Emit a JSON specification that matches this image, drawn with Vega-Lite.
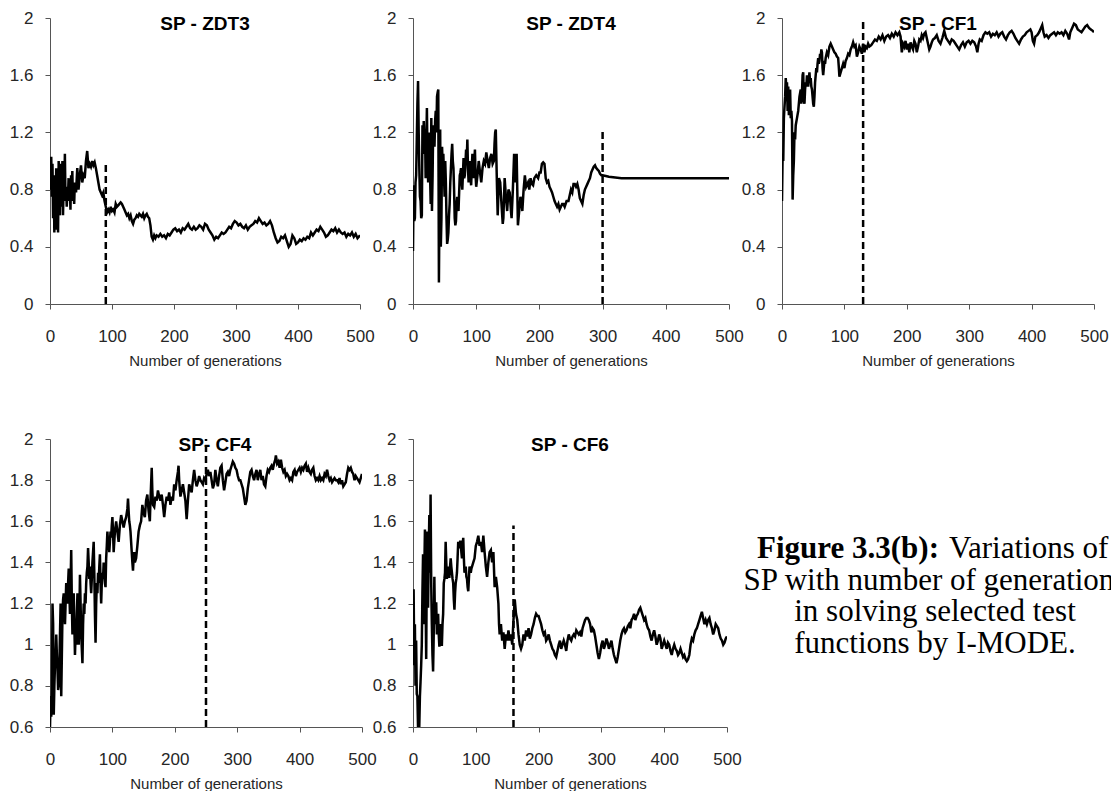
{
  "$schema": "https://vega.github.io/schema/vega-lite/v6.json",
  "padding": {"left": 9, "top": 9, "right": 0, "bottom": 0},
  "background": "#ffffff",
  "spacing": 62,
  "config": {
    "view": {"stroke": null},
    "font": "Liberation Sans, Arial, sans-serif",
    "axis": {
      "grid": false,
      "domainColor": "#555555",
      "domainWidth": 1,
      "tickColor": "#555555",
      "tickSize": 5,
      "labelFont": "Liberation Sans, Arial, sans-serif",
      "labelFontSize": 17,
      "labelColor": "#262626",
      "labelFlush": false,
      "titleFont": "Liberation Sans, Arial, sans-serif",
      "titleFontSize": 15,
      "titleFontWeight": "normal",
      "titleColor": "#262626"
    },
    "axisX": {"labelPadding": 19, "titlePadding": 9},
    "axisY": {"labelPadding": 12},
    "title": {
      "font": "Liberation Sans, Arial, sans-serif",
      "fontSize": 19,
      "fontWeight": "bold",
      "color": "#000000",
      "anchor": "middle",
      "frame": "group",
      "offset": -25
    }
  },
  "datasets": {
    "zdt3": [
      {"g":0,"sp":0.95},{"g":1,"sp":0.8},{"g":2,"sp":1.03},{"g":3,"sp":0.75},{"g":4,"sp":0.98},{"g":5,"sp":0.6},{"g":6,"sp":0.9},{"g":7,"sp":0.5},{"g":8,"sp":0.85},{"g":9,"sp":0.52},
      {"g":10,"sp":0.95},{"g":11,"sp":0.62},{"g":12,"sp":0.9},{"g":13,"sp":0.5},{"g":14,"sp":1.0},{"g":15,"sp":0.7},{"g":16,"sp":0.62},{"g":17,"sp":0.98},{"g":18,"sp":0.75},{"g":19,"sp":0.68},
      {"g":20,"sp":1.0},{"g":21,"sp":0.62},{"g":22,"sp":0.85},{"g":23,"sp":0.78},{"g":24,"sp":1.05},{"g":25,"sp":0.72},{"g":26,"sp":0.82},{"g":27,"sp":0.68},{"g":28,"sp":0.8},{"g":29,"sp":0.75},
      {"g":30,"sp":0.88},{"g":31,"sp":0.72},{"g":32,"sp":0.82},{"g":33,"sp":0.66},{"g":34,"sp":0.9},{"g":35,"sp":0.75},{"g":36,"sp":0.93},{"g":37,"sp":0.72},{"g":38,"sp":0.82},{"g":39,"sp":0.7},
      {"g":40,"sp":0.85},{"g":42,"sp":0.78},{"g":44,"sp":0.95},{"g":46,"sp":0.8},{"g":48,"sp":0.9},{"g":50,"sp":0.97},{"g":52,"sp":0.85},{"g":54,"sp":0.9},{"g":56,"sp":0.88},{"g":58,"sp":1.0},
      {"g":60,"sp":1.07},{"g":62,"sp":0.95},{"g":64,"sp":0.98},{"g":66,"sp":0.96},{"g":68,"sp":1.0},{"g":70,"sp":0.97},{"g":72,"sp":0.99},{"g":74,"sp":0.95},{"g":76,"sp":0.9},{"g":78,"sp":0.85},
      {"g":80,"sp":0.8},{"g":82,"sp":0.78},{"g":84,"sp":0.76},{"g":86,"sp":0.78},{"g":88,"sp":0.72},{"g":90,"sp":0.68},{"g":92,"sp":0.64},{"g":94,"sp":0.66},{"g":96,"sp":0.64},{"g":98,"sp":0.68},
      {"g":100,"sp":0.65},{"g":102,"sp":0.66},{"g":104,"sp":0.64},{"g":106,"sp":0.7},{"g":108,"sp":0.68},{"g":110,"sp":0.69},{"g":112,"sp":0.7},{"g":114,"sp":0.71},{"g":116,"sp":0.7},{"g":118,"sp":0.68},
      {"g":120,"sp":0.66},{"g":122,"sp":0.64},{"g":124,"sp":0.62},{"g":126,"sp":0.63},{"g":128,"sp":0.6},{"g":130,"sp":0.62},{"g":132,"sp":0.58},{"g":134,"sp":0.56},{"g":136,"sp":0.59},{"g":138,"sp":0.6},
      {"g":140,"sp":0.62},{"g":142,"sp":0.61},{"g":144,"sp":0.63},{"g":146,"sp":0.62},{"g":148,"sp":0.61},{"g":150,"sp":0.63},{"g":152,"sp":0.6},{"g":154,"sp":0.62},{"g":156,"sp":0.63},{"g":158,"sp":0.61},
      {"g":160,"sp":0.6},{"g":162,"sp":0.55},{"g":164,"sp":0.47},{"g":166,"sp":0.45},{"g":168,"sp":0.48},{"g":170,"sp":0.46},{"g":172,"sp":0.48},{"g":175,"sp":0.47},{"g":178,"sp":0.49},{"g":181,"sp":0.47},
      {"g":184,"sp":0.48},{"g":187,"sp":0.46},{"g":190,"sp":0.49},{"g":193,"sp":0.48},{"g":196,"sp":0.5},{"g":199,"sp":0.52},{"g":202,"sp":0.53},{"g":205,"sp":0.51},{"g":208,"sp":0.52},{"g":211,"sp":0.5},
      {"g":214,"sp":0.53},{"g":217,"sp":0.52},{"g":220,"sp":0.54},{"g":223,"sp":0.56},{"g":226,"sp":0.53},{"g":229,"sp":0.52},{"g":232,"sp":0.54},{"g":235,"sp":0.52},{"g":238,"sp":0.53},{"g":241,"sp":0.55},
      {"g":244,"sp":0.54},{"g":247,"sp":0.52},{"g":250,"sp":0.56},{"g":253,"sp":0.55},{"g":256,"sp":0.52},{"g":259,"sp":0.5},{"g":262,"sp":0.48},{"g":265,"sp":0.45},{"g":268,"sp":0.47},{"g":271,"sp":0.46},
      {"g":274,"sp":0.48},{"g":277,"sp":0.5},{"g":280,"sp":0.49},{"g":283,"sp":0.5},{"g":286,"sp":0.52},{"g":289,"sp":0.54},{"g":292,"sp":0.53},{"g":295,"sp":0.56},{"g":298,"sp":0.58},{"g":301,"sp":0.57},
      {"g":304,"sp":0.55},{"g":307,"sp":0.56},{"g":310,"sp":0.54},{"g":313,"sp":0.53},{"g":316,"sp":0.55},{"g":319,"sp":0.52},{"g":322,"sp":0.54},{"g":325,"sp":0.55},{"g":328,"sp":0.56},{"g":331,"sp":0.58},
      {"g":334,"sp":0.57},{"g":337,"sp":0.6},{"g":340,"sp":0.58},{"g":343,"sp":0.56},{"g":346,"sp":0.57},{"g":349,"sp":0.55},{"g":352,"sp":0.56},{"g":355,"sp":0.58},{"g":358,"sp":0.55},{"g":361,"sp":0.5},
      {"g":364,"sp":0.46},{"g":367,"sp":0.43},{"g":370,"sp":0.44},{"g":373,"sp":0.47},{"g":376,"sp":0.46},{"g":379,"sp":0.48},{"g":382,"sp":0.44},{"g":385,"sp":0.4},{"g":388,"sp":0.42},{"g":391,"sp":0.48},
      {"g":394,"sp":0.46},{"g":397,"sp":0.42},{"g":400,"sp":0.43},{"g":403,"sp":0.45},{"g":406,"sp":0.44},{"g":409,"sp":0.46},{"g":412,"sp":0.45},{"g":415,"sp":0.47},{"g":418,"sp":0.46},{"g":421,"sp":0.5},
      {"g":424,"sp":0.48},{"g":427,"sp":0.5},{"g":430,"sp":0.52},{"g":433,"sp":0.51},{"g":436,"sp":0.54},{"g":439,"sp":0.52},{"g":442,"sp":0.5},{"g":445,"sp":0.47},{"g":448,"sp":0.48},{"g":451,"sp":0.5},
      {"g":454,"sp":0.52},{"g":457,"sp":0.51},{"g":460,"sp":0.53},{"g":463,"sp":0.5},{"g":466,"sp":0.52},{"g":469,"sp":0.5},{"g":472,"sp":0.49},{"g":475,"sp":0.5},{"g":478,"sp":0.47},{"g":481,"sp":0.49},
      {"g":484,"sp":0.48},{"g":487,"sp":0.5},{"g":490,"sp":0.47},{"g":493,"sp":0.49},{"g":496,"sp":0.46},{"g":500,"sp":0.48}
    ],
    "zdt4": [
      {"g":0,"sp":0.37},{"g":1,"sp":0.83},{"g":2,"sp":0.58},{"g":3,"sp":0.6},{"g":4,"sp":0.85},{"g":5,"sp":0.9},{"g":6,"sp":1.15},{"g":7,"sp":1.4},{"g":8,"sp":1.56},{"g":9,"sp":1.2},
      {"g":10,"sp":0.95},{"g":11,"sp":0.75},{"g":12,"sp":0.72},{"g":13,"sp":0.6},{"g":14,"sp":0.62},{"g":15,"sp":1.25},{"g":16,"sp":1.05},{"g":17,"sp":1.28},{"g":18,"sp":1.15},{"g":19,"sp":1.22},
      {"g":20,"sp":0.88},{"g":21,"sp":1.1},{"g":22,"sp":1.37},{"g":23,"sp":1.0},{"g":24,"sp":0.85},{"g":25,"sp":1.18},{"g":26,"sp":1.2},{"g":27,"sp":0.9},{"g":28,"sp":0.7},{"g":29,"sp":1.3},
      {"g":30,"sp":0.65},{"g":31,"sp":0.9},{"g":32,"sp":1.25},{"g":33,"sp":1.2},{"g":34,"sp":1.1},{"g":35,"sp":1.28},{"g":36,"sp":1.35},{"g":37,"sp":1.2},{"g":38,"sp":1.45},{"g":39,"sp":1.48},
      {"g":40,"sp":1.5},{"g":41,"sp":0.15},{"g":42,"sp":0.8},{"g":43,"sp":1.22},{"g":44,"sp":0.4},{"g":45,"sp":0.6},{"g":46,"sp":1.1},{"g":47,"sp":0.95},{"g":48,"sp":1.05},{"g":49,"sp":0.9},
      {"g":50,"sp":0.75},{"g":51,"sp":1.0},{"g":52,"sp":0.85},{"g":53,"sp":0.6},{"g":54,"sp":0.42},{"g":55,"sp":0.45},{"g":56,"sp":0.5},{"g":57,"sp":0.62},{"g":58,"sp":0.7},{"g":59,"sp":0.85},
      {"g":60,"sp":0.95},{"g":61,"sp":1.05},{"g":62,"sp":1.12},{"g":63,"sp":1.0},{"g":64,"sp":0.95},{"g":65,"sp":0.8},{"g":66,"sp":0.6},{"g":67,"sp":0.55},{"g":68,"sp":0.58},{"g":69,"sp":0.7},
      {"g":70,"sp":0.75},{"g":71,"sp":0.68},{"g":72,"sp":0.65},{"g":73,"sp":0.78},{"g":74,"sp":0.9},{"g":75,"sp":0.92},{"g":76,"sp":0.95},{"g":77,"sp":0.85},{"g":78,"sp":0.8},{"g":80,"sp":1.02},
      {"g":81,"sp":0.88},{"g":82,"sp":0.9},{"g":83,"sp":0.98},{"g":84,"sp":1.08},{"g":85,"sp":1.0},{"g":86,"sp":1.15},{"g":87,"sp":0.95},{"g":88,"sp":0.85},{"g":89,"sp":0.92},{"g":90,"sp":1.0},
      {"g":91,"sp":0.88},{"g":92,"sp":0.83},{"g":93,"sp":0.95},{"g":94,"sp":1.05},{"g":95,"sp":0.92},{"g":96,"sp":0.88},{"g":97,"sp":1.0},{"g":98,"sp":1.08},{"g":99,"sp":0.9},{"g":100,"sp":0.82},
      {"g":102,"sp":0.9},{"g":104,"sp":1.0},{"g":106,"sp":0.92},{"g":108,"sp":0.85},{"g":110,"sp":0.95},{"g":112,"sp":1.0},{"g":114,"sp":0.98},{"g":116,"sp":1.06},{"g":118,"sp":1.0},{"g":120,"sp":0.95},
      {"g":122,"sp":1.02},{"g":124,"sp":1.05},{"g":126,"sp":0.98},{"g":128,"sp":1.0},{"g":129,"sp":1.12},{"g":130,"sp":1.2},{"g":131,"sp":1.22},{"g":132,"sp":1.0},{"g":133,"sp":0.8},{"g":134,"sp":0.62},
      {"g":135,"sp":0.75},{"g":136,"sp":0.88},{"g":138,"sp":0.85},{"g":140,"sp":0.7},{"g":142,"sp":0.56},{"g":143,"sp":0.6},{"g":145,"sp":0.88},{"g":147,"sp":0.75},{"g":149,"sp":0.65},{"g":151,"sp":0.8},
      {"g":153,"sp":0.78},{"g":155,"sp":0.65},{"g":156,"sp":0.6},{"g":158,"sp":0.8},{"g":160,"sp":1.05},{"g":161,"sp":0.95},{"g":162,"sp":0.85},{"g":164,"sp":1.05},{"g":165,"sp":0.8},{"g":166,"sp":0.55},
      {"g":168,"sp":0.65},{"g":170,"sp":0.75},{"g":172,"sp":0.7},{"g":173,"sp":0.65},{"g":175,"sp":0.8},{"g":177,"sp":0.9},{"g":179,"sp":0.82},{"g":182,"sp":0.85},{"g":184,"sp":0.8},{"g":186,"sp":0.88},
      {"g":188,"sp":0.84},{"g":190,"sp":0.83},{"g":192,"sp":0.88},{"g":195,"sp":0.9},{"g":198,"sp":0.88},{"g":200,"sp":0.92},{"g":202,"sp":0.92},{"g":204,"sp":0.98},{"g":206,"sp":0.99},{"g":208,"sp":0.98},
      {"g":210,"sp":0.88},{"g":212,"sp":0.85},{"g":214,"sp":0.86},{"g":216,"sp":0.82},{"g":218,"sp":0.8},{"g":220,"sp":0.78},{"g":222,"sp":0.75},{"g":224,"sp":0.72},{"g":226,"sp":0.7},{"g":228,"sp":0.68},
      {"g":230,"sp":0.7},{"g":232,"sp":0.66},{"g":234,"sp":0.68},{"g":236,"sp":0.7},{"g":238,"sp":0.7},{"g":240,"sp":0.68},{"g":243,"sp":0.72},{"g":246,"sp":0.72},{"g":248,"sp":0.76},{"g":250,"sp":0.8},
      {"g":252,"sp":0.78},{"g":254,"sp":0.84},{"g":256,"sp":0.84},{"g":258,"sp":0.82},{"g":260,"sp":0.84},{"g":262,"sp":0.8},{"g":264,"sp":0.74},{"g":266,"sp":0.72},{"g":268,"sp":0.7},{"g":270,"sp":0.76},
      {"g":272,"sp":0.8},{"g":274,"sp":0.82},{"g":276,"sp":0.84},{"g":278,"sp":0.86},{"g":280,"sp":0.88},{"g":282,"sp":0.92},{"g":284,"sp":0.94},{"g":286,"sp":0.96},{"g":288,"sp":0.97},{"g":290,"sp":0.95},
      {"g":292,"sp":0.94},{"g":294,"sp":0.93},{"g":296,"sp":0.91},{"g":298,"sp":0.9},{"g":300,"sp":0.9},{"g":305,"sp":0.895},{"g":310,"sp":0.89},{"g":320,"sp":0.885},{"g":330,"sp":0.88},{"g":400,"sp":0.88},
      {"g":500,"sp":0.88}
    ],
    "cf1": [
      {"g":0,"sp":0.72},{"g":1,"sp":1.05},{"g":2,"sp":1.0},{"g":3,"sp":1.3},{"g":4,"sp":1.38},{"g":5,"sp":1.45},{"g":6,"sp":1.58},{"g":7,"sp":1.5},{"g":8,"sp":1.55},{"g":9,"sp":1.35},
      {"g":10,"sp":1.52},{"g":11,"sp":1.32},{"g":12,"sp":1.45},{"g":13,"sp":1.5},{"g":14,"sp":1.3},{"g":15,"sp":1.35},{"g":16,"sp":1.28},{"g":17,"sp":0.73},{"g":18,"sp":0.9},{"g":19,"sp":1.0},
      {"g":20,"sp":1.2},{"g":21,"sp":1.15},{"g":22,"sp":1.25},{"g":24,"sp":1.3},{"g":26,"sp":1.35},{"g":28,"sp":1.45},{"g":30,"sp":1.5},{"g":31,"sp":1.4},{"g":32,"sp":1.48},{"g":33,"sp":1.6},
      {"g":34,"sp":1.62},{"g":35,"sp":1.42},{"g":36,"sp":1.4},{"g":37,"sp":1.5},{"g":38,"sp":1.55},{"g":39,"sp":1.52},{"g":40,"sp":1.6},{"g":41,"sp":1.55},{"g":42,"sp":1.52},{"g":43,"sp":1.58},
      {"g":44,"sp":1.62},{"g":45,"sp":1.55},{"g":46,"sp":1.58},{"g":47,"sp":1.52},{"g":48,"sp":1.5},{"g":49,"sp":1.45},{"g":50,"sp":1.4},{"g":51,"sp":1.38},{"g":52,"sp":1.45},{"g":53,"sp":1.55},
      {"g":54,"sp":1.6},{"g":55,"sp":1.65},{"g":56,"sp":1.62},{"g":57,"sp":1.68},{"g":58,"sp":1.72},{"g":59,"sp":1.68},{"g":60,"sp":1.7},{"g":61,"sp":1.75},{"g":62,"sp":1.72},{"g":63,"sp":1.78},
      {"g":64,"sp":1.76},{"g":65,"sp":1.65},{"g":66,"sp":1.6},{"g":67,"sp":1.65},{"g":68,"sp":1.7},{"g":69,"sp":1.68},{"g":70,"sp":1.72},{"g":72,"sp":1.76},{"g":74,"sp":1.74},{"g":76,"sp":1.8},
      {"g":78,"sp":1.82},{"g":80,"sp":1.8},{"g":82,"sp":1.78},{"g":84,"sp":1.76},{"g":86,"sp":1.75},{"g":88,"sp":1.73},{"g":90,"sp":1.72},{"g":91,"sp":1.66},{"g":92,"sp":1.59},{"g":94,"sp":1.62},
      {"g":96,"sp":1.65},{"g":98,"sp":1.68},{"g":100,"sp":1.65},{"g":102,"sp":1.7},{"g":104,"sp":1.72},{"g":106,"sp":1.75},{"g":108,"sp":1.74},{"g":110,"sp":1.78},{"g":112,"sp":1.8},{"g":114,"sp":1.83},
      {"g":116,"sp":1.8},{"g":118,"sp":1.81},{"g":120,"sp":1.73},{"g":122,"sp":1.76},{"g":124,"sp":1.8},{"g":126,"sp":1.78},{"g":128,"sp":1.75},{"g":130,"sp":1.82},{"g":132,"sp":1.76},{"g":134,"sp":1.8},
      {"g":136,"sp":1.79},{"g":138,"sp":1.82},{"g":140,"sp":1.8},{"g":143,"sp":1.81},{"g":146,"sp":1.83},{"g":149,"sp":1.85},{"g":152,"sp":1.84},{"g":155,"sp":1.87},{"g":158,"sp":1.85},{"g":161,"sp":1.88},
      {"g":164,"sp":1.84},{"g":167,"sp":1.87},{"g":170,"sp":1.88},{"g":173,"sp":1.86},{"g":176,"sp":1.89},{"g":179,"sp":1.87},{"g":182,"sp":1.9},{"g":185,"sp":1.88},{"g":188,"sp":1.9},{"g":190,"sp":1.87},
      {"g":192,"sp":1.76},{"g":194,"sp":1.82},{"g":196,"sp":1.8},{"g":198,"sp":1.84},{"g":200,"sp":1.78},{"g":202,"sp":1.82},{"g":204,"sp":1.76},{"g":206,"sp":1.83},{"g":208,"sp":1.8},{"g":210,"sp":1.78},
      {"g":212,"sp":1.84},{"g":214,"sp":1.82},{"g":216,"sp":1.76},{"g":218,"sp":1.8},{"g":220,"sp":1.85},{"g":222,"sp":1.84},{"g":224,"sp":1.88},{"g":226,"sp":1.86},{"g":228,"sp":1.89},{"g":230,"sp":1.9},
      {"g":232,"sp":1.86},{"g":234,"sp":1.82},{"g":236,"sp":1.78},{"g":238,"sp":1.8},{"g":240,"sp":1.83},{"g":242,"sp":1.85},{"g":245,"sp":1.86},{"g":248,"sp":1.88},{"g":251,"sp":1.84},{"g":254,"sp":1.82},
      {"g":257,"sp":1.86},{"g":260,"sp":1.91},{"g":263,"sp":1.86},{"g":266,"sp":1.84},{"g":269,"sp":1.82},{"g":272,"sp":1.85},{"g":275,"sp":1.84},{"g":278,"sp":1.82},{"g":281,"sp":1.8},{"g":284,"sp":1.78},
      {"g":287,"sp":1.81},{"g":290,"sp":1.83},{"g":293,"sp":1.8},{"g":296,"sp":1.83},{"g":299,"sp":1.84},{"g":302,"sp":1.82},{"g":305,"sp":1.84},{"g":308,"sp":1.83},{"g":311,"sp":1.8},{"g":313,"sp":1.76},
      {"g":315,"sp":1.82},{"g":317,"sp":1.85},{"g":320,"sp":1.84},{"g":323,"sp":1.88},{"g":326,"sp":1.9},{"g":329,"sp":1.89},{"g":332,"sp":1.9},{"g":335,"sp":1.87},{"g":338,"sp":1.89},{"g":341,"sp":1.88},
      {"g":344,"sp":1.9},{"g":347,"sp":1.87},{"g":350,"sp":1.89},{"g":353,"sp":1.9},{"g":356,"sp":1.87},{"g":359,"sp":1.85},{"g":362,"sp":1.88},{"g":365,"sp":1.9},{"g":368,"sp":1.91},{"g":371,"sp":1.89},
      {"g":374,"sp":1.86},{"g":377,"sp":1.84},{"g":380,"sp":1.82},{"g":383,"sp":1.85},{"g":386,"sp":1.87},{"g":389,"sp":1.88},{"g":392,"sp":1.9},{"g":395,"sp":1.91},{"g":398,"sp":1.92},{"g":400,"sp":1.9},
      {"g":402,"sp":1.84},{"g":404,"sp":1.82},{"g":406,"sp":1.87},{"g":409,"sp":1.88},{"g":412,"sp":1.9},{"g":415,"sp":1.93},{"g":417,"sp":1.95},{"g":419,"sp":1.9},{"g":421,"sp":1.87},{"g":424,"sp":1.88},
      {"g":427,"sp":1.86},{"g":430,"sp":1.88},{"g":433,"sp":1.89},{"g":436,"sp":1.9},{"g":439,"sp":1.88},{"g":442,"sp":1.9},{"g":445,"sp":1.89},{"g":448,"sp":1.9},{"g":451,"sp":1.88},{"g":454,"sp":1.91},
      {"g":457,"sp":1.89},{"g":460,"sp":1.85},{"g":462,"sp":1.9},{"g":465,"sp":1.93},{"g":468,"sp":1.96},{"g":471,"sp":1.95},{"g":474,"sp":1.92},{"g":477,"sp":1.91},{"g":480,"sp":1.9},{"g":483,"sp":1.92},
      {"g":486,"sp":1.94},{"g":489,"sp":1.95},{"g":492,"sp":1.93},{"g":495,"sp":1.92},{"g":498,"sp":1.91},{"g":500,"sp":1.9}
    ],
    "cf4": [
      {"g":0,"sp":0.6},{"g":1,"sp":0.75},{"g":2,"sp":0.65},{"g":3,"sp":0.78},{"g":4,"sp":1.2},{"g":5,"sp":1.1},{"g":6,"sp":0.66},{"g":7,"sp":0.8},{"g":8,"sp":0.9},{"g":9,"sp":0.95},
      {"g":10,"sp":1.05},{"g":11,"sp":0.95},{"g":12,"sp":0.88},{"g":13,"sp":0.78},{"g":14,"sp":0.8},{"g":15,"sp":0.9},{"g":16,"sp":1.05},{"g":17,"sp":1.2},{"g":18,"sp":0.75},{"g":19,"sp":0.95},
      {"g":20,"sp":1.15},{"g":21,"sp":1.22},{"g":22,"sp":1.25},{"g":23,"sp":1.18},{"g":24,"sp":1.1},{"g":25,"sp":1.2},{"g":26,"sp":1.3},{"g":27,"sp":1.25},{"g":28,"sp":1.2},{"g":29,"sp":1.3},
      {"g":30,"sp":1.37},{"g":31,"sp":1.25},{"g":32,"sp":1.15},{"g":33,"sp":1.3},{"g":34,"sp":1.46},{"g":35,"sp":1.2},{"g":36,"sp":1.05},{"g":37,"sp":1.12},{"g":38,"sp":1.25},{"g":39,"sp":1.1},
      {"g":40,"sp":0.95},{"g":41,"sp":1.05},{"g":42,"sp":1.0},{"g":43,"sp":1.15},{"g":44,"sp":1.25},{"g":45,"sp":1.1},{"g":46,"sp":1.0},{"g":47,"sp":1.12},{"g":48,"sp":1.34},{"g":49,"sp":1.2},
      {"g":50,"sp":1.05},{"g":51,"sp":0.98},{"g":52,"sp":0.91},{"g":53,"sp":1.1},{"g":54,"sp":1.2},{"g":55,"sp":1.15},{"g":56,"sp":1.25},{"g":57,"sp":1.2},{"g":58,"sp":1.3},{"g":59,"sp":1.35},
      {"g":60,"sp":1.38},{"g":61,"sp":1.47},{"g":62,"sp":1.4},{"g":63,"sp":1.32},{"g":64,"sp":1.38},{"g":65,"sp":1.3},{"g":66,"sp":1.25},{"g":67,"sp":1.32},{"g":68,"sp":1.4},{"g":69,"sp":1.45},
      {"g":70,"sp":1.5},{"g":71,"sp":1.35},{"g":72,"sp":1.15},{"g":73,"sp":1.01},{"g":74,"sp":1.2},{"g":75,"sp":1.3},{"g":76,"sp":1.25},{"g":77,"sp":1.35},{"g":78,"sp":1.3},{"g":79,"sp":1.38},
      {"g":80,"sp":1.44},{"g":81,"sp":1.3},{"g":82,"sp":1.2},{"g":83,"sp":1.3},{"g":84,"sp":1.35},{"g":85,"sp":1.32},{"g":86,"sp":1.4},{"g":87,"sp":1.35},{"g":88,"sp":1.3},{"g":89,"sp":1.28},
      {"g":90,"sp":1.42},{"g":91,"sp":1.48},{"g":92,"sp":1.55},{"g":93,"sp":1.5},{"g":94,"sp":1.52},{"g":95,"sp":1.45},{"g":96,"sp":1.5},{"g":97,"sp":1.55},{"g":98,"sp":1.52},{"g":99,"sp":1.58},
      {"g":100,"sp":1.62},{"g":101,"sp":1.55},{"g":102,"sp":1.45},{"g":104,"sp":1.55},{"g":106,"sp":1.6},{"g":108,"sp":1.55},{"g":110,"sp":1.5},{"g":112,"sp":1.58},{"g":114,"sp":1.63},{"g":116,"sp":1.6},
      {"g":118,"sp":1.57},{"g":120,"sp":1.6},{"g":122,"sp":1.62},{"g":124,"sp":1.66},{"g":125,"sp":1.71},{"g":126,"sp":1.65},{"g":127,"sp":1.6},{"g":128,"sp":1.58},{"g":129,"sp":1.55},{"g":130,"sp":1.5},
      {"g":131,"sp":1.45},{"g":132,"sp":1.4},{"g":133,"sp":1.36},{"g":134,"sp":1.42},{"g":135,"sp":1.45},{"g":136,"sp":1.4},{"g":138,"sp":1.42},{"g":140,"sp":1.48},{"g":142,"sp":1.55},{"g":144,"sp":1.58},
      {"g":146,"sp":1.6},{"g":148,"sp":1.68},{"g":150,"sp":1.64},{"g":152,"sp":1.62},{"g":154,"sp":1.7},{"g":156,"sp":1.73},{"g":158,"sp":1.65},{"g":160,"sp":1.6},{"g":161,"sp":1.7},{"g":162,"sp":1.78},
      {"g":163,"sp":1.86},{"g":164,"sp":1.75},{"g":165,"sp":1.68},{"g":167,"sp":1.67},{"g":169,"sp":1.72},{"g":171,"sp":1.7},{"g":173,"sp":1.75},{"g":175,"sp":1.72},{"g":177,"sp":1.7},{"g":179,"sp":1.73},
      {"g":181,"sp":1.68},{"g":183,"sp":1.62},{"g":185,"sp":1.68},{"g":187,"sp":1.72},{"g":189,"sp":1.7},{"g":191,"sp":1.74},{"g":193,"sp":1.68},{"g":195,"sp":1.72},{"g":197,"sp":1.7},{"g":199,"sp":1.78},
      {"g":201,"sp":1.75},{"g":203,"sp":1.8},{"g":205,"sp":1.84},{"g":206,"sp":1.87},{"g":207,"sp":1.8},{"g":209,"sp":1.72},{"g":211,"sp":1.75},{"g":213,"sp":1.78},{"g":215,"sp":1.74},{"g":217,"sp":1.7},
      {"g":219,"sp":1.61},{"g":221,"sp":1.7},{"g":223,"sp":1.78},{"g":225,"sp":1.76},{"g":227,"sp":1.74},{"g":229,"sp":1.8},{"g":231,"sp":1.85},{"g":233,"sp":1.8},{"g":235,"sp":1.77},{"g":237,"sp":1.79},
      {"g":239,"sp":1.82},{"g":241,"sp":1.8},{"g":243,"sp":1.79},{"g":245,"sp":1.78},{"g":247,"sp":1.81},{"g":249,"sp":1.8},{"g":251,"sp":1.83},{"g":253,"sp":1.85},{"g":255,"sp":1.82},{"g":257,"sp":1.84},
      {"g":259,"sp":1.8},{"g":261,"sp":1.76},{"g":263,"sp":1.78},{"g":265,"sp":1.85},{"g":267,"sp":1.8},{"g":269,"sp":1.77},{"g":271,"sp":1.82},{"g":273,"sp":1.86},{"g":275,"sp":1.87},{"g":277,"sp":1.8},
      {"g":279,"sp":1.75},{"g":281,"sp":1.79},{"g":283,"sp":1.83},{"g":285,"sp":1.84},{"g":287,"sp":1.82},{"g":289,"sp":1.85},{"g":291,"sp":1.87},{"g":293,"sp":1.89},{"g":295,"sp":1.88},{"g":297,"sp":1.86},
      {"g":299,"sp":1.85},{"g":301,"sp":1.82},{"g":303,"sp":1.8},{"g":305,"sp":1.8},{"g":307,"sp":1.78},{"g":309,"sp":1.76},{"g":311,"sp":1.72},{"g":313,"sp":1.68},{"g":315,"sp":1.7},{"g":317,"sp":1.76},
      {"g":319,"sp":1.8},{"g":321,"sp":1.84},{"g":323,"sp":1.85},{"g":325,"sp":1.82},{"g":327,"sp":1.8},{"g":329,"sp":1.83},{"g":331,"sp":1.85},{"g":333,"sp":1.8},{"g":335,"sp":1.83},{"g":337,"sp":1.85},
      {"g":339,"sp":1.8},{"g":341,"sp":1.82},{"g":343,"sp":1.78},{"g":345,"sp":1.77},{"g":347,"sp":1.82},{"g":349,"sp":1.85},{"g":351,"sp":1.84},{"g":353,"sp":1.86},{"g":355,"sp":1.87},{"g":357,"sp":1.85},
      {"g":359,"sp":1.88},{"g":361,"sp":1.9},{"g":362,"sp":1.92},{"g":364,"sp":1.88},{"g":366,"sp":1.89},{"g":368,"sp":1.86},{"g":370,"sp":1.9},{"g":372,"sp":1.86},{"g":374,"sp":1.84},{"g":376,"sp":1.85},
      {"g":378,"sp":1.82},{"g":380,"sp":1.83},{"g":382,"sp":1.82},{"g":384,"sp":1.8},{"g":386,"sp":1.81},{"g":388,"sp":1.8},{"g":390,"sp":1.84},{"g":392,"sp":1.85},{"g":394,"sp":1.82},{"g":396,"sp":1.84},
      {"g":398,"sp":1.85},{"g":400,"sp":1.86},{"g":402,"sp":1.84},{"g":404,"sp":1.86},{"g":406,"sp":1.85},{"g":408,"sp":1.87},{"g":410,"sp":1.88},{"g":412,"sp":1.84},{"g":414,"sp":1.86},{"g":416,"sp":1.84},
      {"g":418,"sp":1.83},{"g":420,"sp":1.85},{"g":422,"sp":1.86},{"g":424,"sp":1.82},{"g":426,"sp":1.8},{"g":428,"sp":1.81},{"g":430,"sp":1.8},{"g":432,"sp":1.82},{"g":434,"sp":1.8},{"g":436,"sp":1.81},
      {"g":438,"sp":1.8},{"g":440,"sp":1.83},{"g":442,"sp":1.82},{"g":444,"sp":1.85},{"g":446,"sp":1.82},{"g":448,"sp":1.8},{"g":450,"sp":1.81},{"g":452,"sp":1.79},{"g":454,"sp":1.8},{"g":456,"sp":1.81},
      {"g":458,"sp":1.8},{"g":460,"sp":1.8},{"g":462,"sp":1.79},{"g":464,"sp":1.81},{"g":466,"sp":1.78},{"g":468,"sp":1.8},{"g":470,"sp":1.77},{"g":472,"sp":1.78},{"g":474,"sp":1.79},{"g":476,"sp":1.83},
      {"g":478,"sp":1.86},{"g":480,"sp":1.85},{"g":482,"sp":1.86},{"g":484,"sp":1.84},{"g":486,"sp":1.83},{"g":488,"sp":1.8},{"g":490,"sp":1.82},{"g":492,"sp":1.81},{"g":494,"sp":1.8},{"g":496,"sp":1.79},
      {"g":498,"sp":1.81},{"g":500,"sp":1.83}
    ],
    "cf6": [
      {"g":0,"sp":1.2},{"g":1,"sp":1.27},{"g":2,"sp":0.9},{"g":3,"sp":1.1},{"g":4,"sp":0.8},{"g":5,"sp":1.02},{"g":6,"sp":0.76},{"g":7,"sp":0.75},{"g":8,"sp":0.6},{"g":9,"sp":0.6},
      {"g":10,"sp":0.6},{"g":11,"sp":0.75},{"g":12,"sp":0.82},{"g":13,"sp":0.9},{"g":14,"sp":1.0},{"g":15,"sp":1.25},{"g":16,"sp":1.44},{"g":17,"sp":1.1},{"g":18,"sp":1.35},{"g":19,"sp":1.56},
      {"g":20,"sp":1.25},{"g":21,"sp":0.93},{"g":22,"sp":1.4},{"g":23,"sp":1.55},{"g":24,"sp":1.18},{"g":25,"sp":1.45},{"g":26,"sp":1.63},{"g":27,"sp":1.35},{"g":28,"sp":1.73},{"g":29,"sp":1.3},
      {"g":30,"sp":1.1},{"g":31,"sp":0.95},{"g":32,"sp":0.87},{"g":33,"sp":1.05},{"g":34,"sp":1.33},{"g":35,"sp":1.1},{"g":36,"sp":1.2},{"g":37,"sp":1.2},{"g":38,"sp":1.05},{"g":39,"sp":1.1},
      {"g":40,"sp":1.15},{"g":41,"sp":1.05},{"g":42,"sp":0.99},{"g":43,"sp":1.05},{"g":44,"sp":1.1},{"g":45,"sp":1.0},{"g":46,"sp":1.0},{"g":47,"sp":1.1},{"g":48,"sp":1.15},{"g":49,"sp":1.3},
      {"g":50,"sp":1.32},{"g":51,"sp":1.35},{"g":52,"sp":1.5},{"g":53,"sp":1.4},{"g":54,"sp":1.32},{"g":55,"sp":1.35},{"g":56,"sp":1.38},{"g":57,"sp":1.33},{"g":58,"sp":1.33},{"g":59,"sp":1.38},
      {"g":60,"sp":1.42},{"g":61,"sp":1.38},{"g":62,"sp":1.35},{"g":63,"sp":1.32},{"g":64,"sp":1.3},{"g":65,"sp":1.22},{"g":66,"sp":1.17},{"g":67,"sp":1.25},{"g":68,"sp":1.3},{"g":69,"sp":1.32},
      {"g":70,"sp":1.35},{"g":71,"sp":1.42},{"g":72,"sp":1.5},{"g":73,"sp":1.48},{"g":74,"sp":1.47},{"g":75,"sp":1.5},{"g":76,"sp":1.5},{"g":77,"sp":1.45},{"g":78,"sp":1.42},{"g":79,"sp":1.48},
      {"g":80,"sp":1.52},{"g":81,"sp":1.42},{"g":82,"sp":1.35},{"g":83,"sp":1.36},{"g":84,"sp":1.38},{"g":85,"sp":1.33},{"g":86,"sp":1.32},{"g":87,"sp":1.28},{"g":88,"sp":1.26},{"g":89,"sp":1.32},
      {"g":90,"sp":1.38},{"g":91,"sp":1.36},{"g":92,"sp":1.35},{"g":93,"sp":1.37},{"g":94,"sp":1.38},{"g":96,"sp":1.4},{"g":98,"sp":1.42},{"g":100,"sp":1.48},{"g":102,"sp":1.5},{"g":104,"sp":1.53},
      {"g":106,"sp":1.48},{"g":108,"sp":1.5},{"g":110,"sp":1.45},{"g":112,"sp":1.53},{"g":114,"sp":1.45},{"g":116,"sp":1.38},{"g":118,"sp":1.33},{"g":120,"sp":1.4},{"g":122,"sp":1.45},{"g":124,"sp":1.46},
      {"g":126,"sp":1.4},{"g":128,"sp":1.45},{"g":130,"sp":1.28},{"g":132,"sp":1.33},{"g":134,"sp":1.28},{"g":136,"sp":1.2},{"g":137,"sp":1.1},{"g":138,"sp":1.05},{"g":140,"sp":1.1},{"g":142,"sp":1.02},
      {"g":144,"sp":1.06},{"g":146,"sp":0.98},{"g":148,"sp":1.05},{"g":150,"sp":1.02},{"g":152,"sp":1.07},{"g":154,"sp":1.02},{"g":156,"sp":1.05},{"g":158,"sp":1.0},{"g":160,"sp":1.12},{"g":162,"sp":1.22},
      {"g":164,"sp":1.15},{"g":166,"sp":1.12},{"g":168,"sp":1.05},{"g":170,"sp":1.0},{"g":172,"sp":0.98},{"g":174,"sp":1.0},{"g":176,"sp":1.05},{"g":178,"sp":1.02},{"g":180,"sp":1.07},{"g":182,"sp":1.04},
      {"g":184,"sp":1.08},{"g":186,"sp":1.03},{"g":188,"sp":1.05},{"g":190,"sp":1.08},{"g":192,"sp":1.1},{"g":194,"sp":1.13},{"g":196,"sp":1.15},{"g":198,"sp":1.14},{"g":200,"sp":1.14},{"g":202,"sp":1.12},
      {"g":204,"sp":1.1},{"g":206,"sp":1.07},{"g":208,"sp":1.05},{"g":210,"sp":1.06},{"g":212,"sp":1.02},{"g":214,"sp":1.03},{"g":216,"sp":1.05},{"g":218,"sp":1.02},{"g":220,"sp":1.0},{"g":222,"sp":0.98},
      {"g":224,"sp":0.97},{"g":226,"sp":0.95},{"g":228,"sp":0.94},{"g":230,"sp":0.97},{"g":232,"sp":1.0},{"g":234,"sp":1.02},{"g":236,"sp":0.98},{"g":238,"sp":1.0},{"g":240,"sp":1.02},{"g":242,"sp":1.0},
      {"g":244,"sp":0.97},{"g":246,"sp":1.02},{"g":248,"sp":1.05},{"g":250,"sp":1.03},{"g":252,"sp":1.02},{"g":254,"sp":1.04},{"g":256,"sp":1.05},{"g":258,"sp":1.04},{"g":260,"sp":1.07},{"g":262,"sp":1.06},
      {"g":264,"sp":1.05},{"g":266,"sp":1.06},{"g":268,"sp":1.04},{"g":270,"sp":1.08},{"g":272,"sp":1.1},{"g":274,"sp":1.12},{"g":276,"sp":1.13},{"g":278,"sp":1.13},{"g":280,"sp":1.12},{"g":282,"sp":1.1},
      {"g":284,"sp":1.06},{"g":286,"sp":1.08},{"g":288,"sp":1.07},{"g":290,"sp":1.04},{"g":292,"sp":1.0},{"g":294,"sp":0.96},{"g":296,"sp":0.93},{"g":298,"sp":0.96},{"g":300,"sp":1.0},{"g":302,"sp":1.02},
      {"g":304,"sp":0.98},{"g":306,"sp":1.0},{"g":308,"sp":1.03},{"g":310,"sp":1.01},{"g":312,"sp":0.98},{"g":314,"sp":1.0},{"g":316,"sp":1.02},{"g":318,"sp":0.98},{"g":320,"sp":0.95},{"g":322,"sp":0.93},
      {"g":324,"sp":0.91},{"g":326,"sp":0.94},{"g":328,"sp":0.98},{"g":330,"sp":1.02},{"g":332,"sp":1.05},{"g":334,"sp":1.07},{"g":336,"sp":1.08},{"g":338,"sp":1.06},{"g":340,"sp":1.07},{"g":342,"sp":1.09},
      {"g":344,"sp":1.1},{"g":346,"sp":1.08},{"g":348,"sp":1.12},{"g":350,"sp":1.13},{"g":352,"sp":1.15},{"g":354,"sp":1.12},{"g":356,"sp":1.14},{"g":358,"sp":1.15},{"g":360,"sp":1.17},{"g":362,"sp":1.18},
      {"g":364,"sp":1.16},{"g":366,"sp":1.14},{"g":368,"sp":1.12},{"g":370,"sp":1.13},{"g":372,"sp":1.1},{"g":374,"sp":1.08},{"g":376,"sp":1.07},{"g":378,"sp":1.04},{"g":380,"sp":1.02},{"g":382,"sp":1.05},
      {"g":384,"sp":1.07},{"g":386,"sp":1.04},{"g":388,"sp":1.0},{"g":390,"sp":1.02},{"g":392,"sp":1.05},{"g":394,"sp":1.03},{"g":396,"sp":0.98},{"g":398,"sp":1.0},{"g":400,"sp":1.02},{"g":402,"sp":1.0},
      {"g":404,"sp":0.98},{"g":406,"sp":1.01},{"g":408,"sp":1.0},{"g":410,"sp":0.97},{"g":412,"sp":0.95},{"g":414,"sp":0.98},{"g":416,"sp":1.0},{"g":418,"sp":0.98},{"g":420,"sp":0.97},{"g":422,"sp":0.95},
      {"g":424,"sp":0.96},{"g":426,"sp":0.98},{"g":428,"sp":0.96},{"g":430,"sp":0.94},{"g":432,"sp":0.95},{"g":434,"sp":0.93},{"g":436,"sp":0.92},{"g":438,"sp":0.93},{"g":440,"sp":0.95},{"g":442,"sp":1.0},
      {"g":444,"sp":1.03},{"g":446,"sp":1.02},{"g":448,"sp":1.05},{"g":450,"sp":1.07},{"g":452,"sp":1.08},{"g":454,"sp":1.1},{"g":456,"sp":1.12},{"g":458,"sp":1.14},{"g":460,"sp":1.16},{"g":462,"sp":1.13},
      {"g":464,"sp":1.1},{"g":466,"sp":1.12},{"g":468,"sp":1.1},{"g":470,"sp":1.12},{"g":472,"sp":1.13},{"g":474,"sp":1.1},{"g":476,"sp":1.08},{"g":478,"sp":1.05},{"g":480,"sp":1.07},{"g":482,"sp":1.1},
      {"g":484,"sp":1.09},{"g":486,"sp":1.08},{"g":488,"sp":1.05},{"g":490,"sp":1.03},{"g":492,"sp":1.02},{"g":494,"sp":1.0},{"g":496,"sp":1.01},{"g":498,"sp":1.03},{"g":500,"sp":1.04}
    ],
    "caption": [
      {"line": 1, "part": "head", "text": "Figure 3.3(b):"},
      {"line": 1, "part": "tail", "text": "Variations of"},
      {"line": 2, "part": "body", "text": "SP with number of generations"},
      {"line": 3, "part": "body", "text": "in solving selected test"},
      {"line": 4, "part": "body", "text": "functions by I-MODE."}
    ]
  },
  "vconcat": [
    {
      "bounds": "flush",
      "spacing": 53,
      "hconcat": [
        {
          "width": 310, "height": 286,
          "title": {"text": "SP - ZDT3"},
          "layer": [
            {
              "data": {"name": "zdt3"},
              "mark": {"type": "line", "color": "#000000", "strokeWidth": 2.5, "clip": true},
              "encoding": {
                "x": {"field": "g", "type": "quantitative", "scale": {"domain": [0, 500], "nice": false}, "axis": {"values": [0, 100, 200, 300, 400, 500], "title": "Number of generations"}},
                "y": {"field": "sp", "type": "quantitative", "scale": {"domain": [0, 2], "nice": false}, "axis": {"values": [0, 0.4, 0.8, 1.2, 1.6, 2], "format": "~g", "title": null}}
              }
            },
            {
              "data": {"values": [{"g": 90, "lo": 0, "hi": 1.0}]},
              "mark": {"type": "rule", "color": "#000000", "strokeWidth": 2.5, "strokeDash": [7, 4]},
              "encoding": {
                "x": {"field": "g", "type": "quantitative"},
                "y": {"field": "lo", "type": "quantitative"},
                "y2": {"field": "hi"}
              }
            }
          ]
        },
        {
          "width": 316, "height": 286,
          "title": {"text": "SP - ZDT4"},
          "layer": [
            {
              "data": {"name": "zdt4"},
              "mark": {"type": "line", "color": "#000000", "strokeWidth": 2.5, "clip": true},
              "encoding": {
                "x": {"field": "g", "type": "quantitative", "scale": {"domain": [0, 500], "nice": false}, "axis": {"values": [0, 100, 200, 300, 400, 500], "title": "Number of generations"}},
                "y": {"field": "sp", "type": "quantitative", "scale": {"domain": [0, 2], "nice": false}, "axis": {"values": [0, 0.4, 0.8, 1.2, 1.6, 2], "format": "~g", "title": null}}
              }
            },
            {
              "data": {"values": [{"g": 300, "lo": 0, "hi": 1.22}]},
              "mark": {"type": "rule", "color": "#000000", "strokeWidth": 2.5, "strokeDash": [7, 4]},
              "encoding": {
                "x": {"field": "g", "type": "quantitative"},
                "y": {"field": "lo", "type": "quantitative"},
                "y2": {"field": "hi"}
              }
            }
          ]
        },
        {
          "width": 312, "height": 286,
          "title": {"text": "SP - CF1"},
          "layer": [
            {
              "data": {"name": "cf1"},
              "mark": {"type": "line", "color": "#000000", "strokeWidth": 2.5, "clip": true},
              "encoding": {
                "x": {"field": "g", "type": "quantitative", "scale": {"domain": [0, 500], "nice": false}, "axis": {"values": [0, 100, 200, 300, 400, 500], "title": "Number of generations"}},
                "y": {"field": "sp", "type": "quantitative", "scale": {"domain": [0, 2], "nice": false}, "axis": {"values": [0, 0.4, 0.8, 1.2, 1.6, 2], "format": "~g", "title": null}}
              }
            },
            {
              "data": {"values": [{"g": 130, "lo": 0, "hi": 2}]},
              "mark": {"type": "rule", "color": "#000000", "strokeWidth": 2.5, "strokeDash": [7, 4]},
              "encoding": {
                "x": {"field": "g", "type": "quantitative"},
                "y": {"field": "lo", "type": "quantitative"},
                "y2": {"field": "hi"}
              }
            }
          ]
        }
      ]
    },
    {
      "bounds": "flush",
      "spacing": 51,
      "hconcat": [
        {
          "width": 312, "height": 288,
          "title": {"text": "SP- CF4", "dx": 9},
          "layer": [
            {
              "data": {"name": "cf4"},
              "mark": {"type": "line", "color": "#000000", "strokeWidth": 2.5, "clip": true},
              "encoding": {
                "x": {"field": "g", "type": "quantitative", "scale": {"domain": [0, 500], "nice": false}, "axis": {"values": [0, 100, 200, 300, 400, 500], "title": "Number of generations"}},
                "y": {"field": "sp", "type": "quantitative", "scale": {"domain": [0.6, 2], "nice": false}, "axis": {"values": [0.6, 0.8, 1, 1.2, 1.4, 1.6, 1.8, 2], "format": "~g", "title": null}}
              }
            },
            {
              "data": {"values": [{"g": 250, "lo": 0.6, "hi": 2}]},
              "mark": {"type": "rule", "color": "#000000", "strokeWidth": 2.5, "strokeDash": [7, 4]},
              "encoding": {
                "x": {"field": "g", "type": "quantitative"},
                "y": {"field": "lo", "type": "quantitative"},
                "y2": {"field": "hi"}
              }
            }
          ]
        },
        {
          "bounds": "flush",
          "spacing": 8,
          "hconcat": [
            {
              "width": 314, "height": 288,
              "title": {"text": "SP - CF6"},
              "layer": [
                {
                  "data": {"name": "cf6"},
                  "mark": {"type": "line", "color": "#000000", "strokeWidth": 2.5, "clip": true},
                  "encoding": {
                    "x": {"field": "g", "type": "quantitative", "scale": {"domain": [0, 500], "nice": false}, "axis": {"values": [0, 100, 200, 300, 400, 500], "title": "Number of generations"}},
                    "y": {"field": "sp", "type": "quantitative", "scale": {"domain": [0.6, 2], "nice": false}, "axis": {"values": [0.6, 0.8, 1, 1.2, 1.4, 1.6, 1.8, 2], "format": "~g", "title": null}}
                  }
                },
                {
                  "data": {"values": [{"g": 160, "lo": 0.6, "hi": 1.58}]},
                  "mark": {"type": "rule", "color": "#000000", "strokeWidth": 2.5, "strokeDash": [7, 4]},
                  "encoding": {
                    "x": {"field": "g", "type": "quantitative"},
                    "y": {"field": "lo", "type": "quantitative"},
                    "y2": {"field": "hi"}
                  }
                }
              ]
            },
            {
              "width": 376, "height": 288,
              "data": {"name": "caption"},
              "encoding": {
                "y": {"field": "line", "type": "quantitative", "scale": {"domain": [-2.47, 6.61], "nice": false, "zero": false, "reverse": true}, "axis": null},
                "text": {"field": "text"}
              },
              "layer": [
                {
                  "transform": [{"filter": "datum.part == 'body'"}],
                  "mark": {"type": "text", "font": "Liberation Serif", "fontSize": 31, "color": "#000000", "align": "center", "baseline": "middle", "dx": 12, "clip": true}
                },
                {
                  "transform": [{"filter": "datum.part == 'head'"}],
                  "mark": {"type": "text", "font": "Liberation Serif", "fontSize": 31, "fontWeight": "bold", "color": "#000000", "align": "right", "baseline": "middle", "dx": 16, "clip": true}
                },
                {
                  "transform": [{"filter": "datum.part == 'tail'"}],
                  "mark": {"type": "text", "font": "Liberation Serif", "fontSize": 31, "color": "#000000", "align": "left", "baseline": "middle", "dx": 26, "clip": true}
                }
              ]
            }
          ]
        }
      ]
    }
  ]
}
